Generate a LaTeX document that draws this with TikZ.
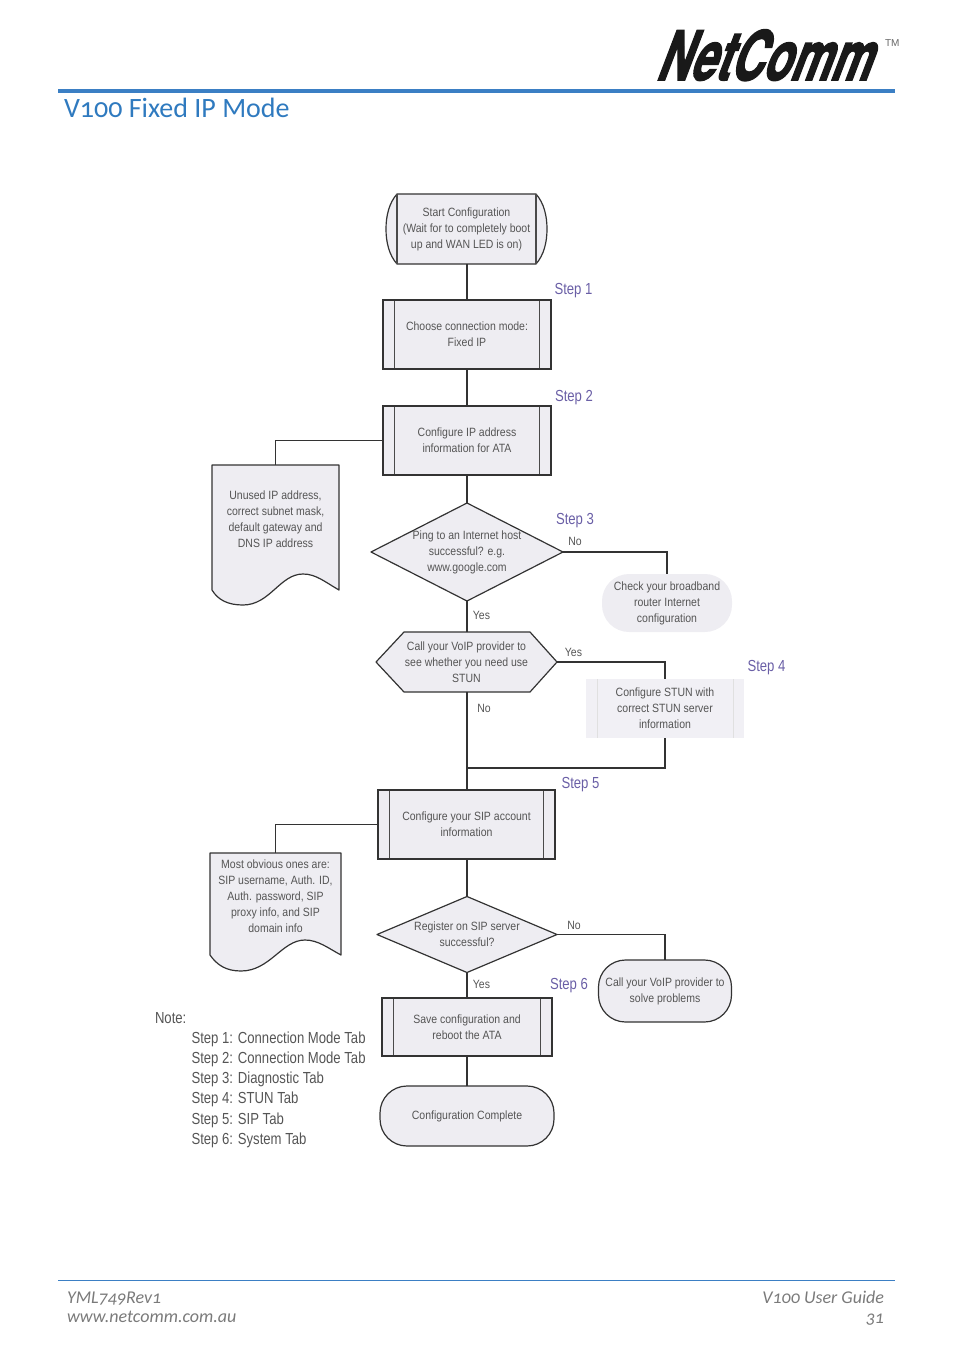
\documentclass[tikz,border=0pt]{standalone}
\usepackage{fontspec}
\setmainfont{Liberation Sans}
\newfontfamily\dgfont[FakeStretch=0.875]{Liberation Sans}
\newfontfamily\stepfont[FakeStretch=0.82]{Liberation Sans}
\newfontfamily\headfont[Numbers=OldStyle]{Carlito}
\newfontfamily\logofont[FakeBold=2.5]{TeX Gyre Heros Bold}
\usetikzlibrary{backgrounds}
\definecolor{rulecol}{HTML}{3B7FC4}
\definecolor{titlecol}{HTML}{2F7ABF}
\definecolor{boxfill}{HTML}{EEEDF2}
\definecolor{stunfill}{HTML}{F1F0F5}
\definecolor{edgecol}{HTML}{333333}
\definecolor{innercol}{HTML}{4A4A4A}
\definecolor{txtcol}{HTML}{555555}
\definecolor{stepcol}{HTML}{6A5FA6}
\definecolor{footcol}{HTML}{7A7A7A}
\tikzset{
  x=1pt,y=-1pt,
  every node/.style={inner sep=0pt,outer sep=0pt},
  dtxt/.style={font=\dgfont\fontsize{12}{16}\selectfont,text=txtcol,align=center},
  shapebox/.style={dtxt,rectangle,minimum width=#1},
  outline/.style={draw=edgecol,line width=1.2pt,fill=boxfill,line join=round},
  link/.style={draw=edgecol,line width=1.1pt},
  procbox/.style={dtxt,rectangle,draw=edgecol,line width=1.2pt,fill=boxfill,
    path picture={
      \draw[innercol,line width=1.8pt]
        ([xshift=11.5pt]path picture bounding box.north west) -- ([xshift=11.5pt]path picture bounding box.south west)
        ([xshift=-11.5pt]path picture bounding box.north east) -- ([xshift=-11.5pt]path picture bounding box.south east);}},
  termbox/.style={dtxt,rectangle,draw=edgecol,line width=1.2pt,fill=boxfill,rounded corners=27pt},
  steplab/.style={font=\stepfont\fontsize{16}{18}\selectfont,text=stepcol},
  yn/.style={font=\dgfont\fontsize{12}{14}\selectfont,text=txtcol},
  notetxt/.style={font=\stepfont\fontsize{16}{18}\selectfont,text=txtcol,anchor=west},
  foottxt/.style={font=\headfont\itshape\fontsize{18}{20}\selectfont,text=footcol}
}
\begin{document}
\begin{tikzpicture}
\useasboundingbox (0,0) rectangle (954,1352);

% header
\node[font=\logofont\fontsize{68}{68}\selectfont,text=black!90,xslant=0.38,xscale=0.665,transform shape,anchor=base west] (logo) at (655,80) {NetComm};
\node[font=\fontsize{10}{10}\selectfont,text=black!60,anchor=west] (tm) at (885,43) {TM};
\fill[rulecol] (58,89) rectangle (895,93);
\node[font=\headfont\fontsize{28}{30}\selectfont,text=titlecol,anchor=base west] (title) at (64,117) {V100 Fixed IP Mode};

% nodes
\node[shapebox=161pt,minimum height=70pt] (start) at (466.5,229) {Start Configuration\\(Wait for to completely boot\\up and WAN LED is on)};
\node[procbox,minimum width=168pt,minimum height=69pt] (b1) at (467,334.5) {Choose connection mode:\\Fixed IP};
\node[procbox,minimum width=168pt,minimum height=69pt] (b2) at (467,440.5) {Configure IP address\\information for ATA};
\node[shapebox=127pt,minimum height=108pt] (doc1) at (275.5,519) {Unused IP address,\\correct subnet mask,\\default gateway and\\DNS IP address};
\node[shapebox=192pt,minimum height=98pt] (d1) at (467,552) {Ping to an Internet host\\successful? e.g.\\www.google.com};
\node[dtxt,rectangle,fill=boxfill,rounded corners=27pt,minimum width=130pt,minimum height=58pt] (chk) at (667,603) {Check your broadband\\router Internet\\configuration};
\node[shapebox=181pt,minimum height=60pt] (hex) at (466.5,662) {Call your VoIP provider to\\see whether you need use\\STUN};
\node[dtxt,rectangle,fill=stunfill,minimum width=158pt,minimum height=59pt] (stun) at (665,708.5) {Configure STUN with\\correct STUN server\\information};
\node[procbox,minimum width=177pt,minimum height=69pt] (b5) at (466.5,824.5) {Configure your SIP account\\information};
\node[shapebox=131pt,minimum height=87pt] (doc2) at (275.5,896.5) {Most obvious ones are:\\SIP username, Auth. ID,\\Auth. password, SIP\\proxy info, and SIP\\domain info};
\node[shapebox=180pt,minimum height=76pt] (d2) at (467,934.5) {Register on SIP server\\successful?};
\node[termbox,minimum width=133pt,minimum height=62pt] (call) at (665,991) {Call your VoIP provider to\\solve problems};
\node[procbox,minimum width=170pt,minimum height=58pt] (save) at (467,1027) {Save configuration and\\reboot the ATA};
\node[termbox,minimum width=174pt,minimum height=60pt] (done) at (467,1116) {Configuration Complete};

% shapes behind the nodes
\begin{scope}[on background layer]
\draw[outline] (397,194) -- (536,194) .. controls (544,203) and (547,216) .. (547,229) .. controls (547,242) and (544,255) .. (536,264) -- (397,264) .. controls (389,255) and (386,242) .. (386,229) .. controls (386,216) and (389,203) .. (397,194) -- cycle;
\draw[innercol,line width=1.8pt] (397,194) -- (397,264) (536,194) -- (536,264);
\draw[outline] (doc1.north west) -- (doc1.north east) -- (339,590) .. controls (325,582) and (316,574) .. (303,574) .. controls (280,574) and (270,605) .. (243,605) .. controls (228,605) and (218,600) .. (212,590) -- cycle;
\draw[outline] (d1.west) -- (d1.north) -- (d1.east) -- (d1.south) -- cycle;
\draw[outline] (hex.west) -- (404,632) -- (530,632) -- (hex.east) -- (530,692) -- (404,692) -- cycle;
\draw[outline] (doc2.north west) -- (doc2.north east) -- (341,955) .. controls (328,948) and (318,940) .. (305,940) .. controls (282,940) and (270,971) .. (241,971) .. controls (226,971) and (217,965) .. (210,955) -- cycle;
\draw[outline] (d2.west) -- (d2.north) -- (d2.east) -- (d2.south) -- cycle;
\end{scope}
\draw[white!88!black,line width=0.6pt] ([xshift=11pt]stun.north west) -- ([xshift=11pt]stun.south west) ([xshift=-11pt]stun.north east) -- ([xshift=-11pt]stun.south east);

% connectors
\coordinate (jn) at (d1.south |- 0,768);
\draw[link] (start.south -| b1.north) -- (b1.north);
\draw[link] (b1.south) -- (b2.north);
\draw[link] (b2.south) -- (d1.north);
\draw[link] (d1.south) -- (d1.south |- hex.north);
\draw[link] (d1.south |- hex.south) -- (d1.south |- b5.north);
\draw[link] (b5.south -| d2.north) -- (d2.north);
\draw[link] (d2.south) -- (save.north);
\draw[link] (save.south) -- (done.north);
\draw[link] (b2.west) -| (doc1.north);
\draw[link] (b5.west) -| (doc2.north);
\draw[link] (d1.east) -| (chk.north);
\draw[link] (hex.east) -| (stun.north);
\draw[link] (stun.south) |- (jn);
\draw[link] (d2.east) -| (call.north);

% labels
\node[steplab] (s1) at (573.5,291) {Step 1};
\node[steplab] (s2) at (574,398) {Step 2};
\node[steplab] (s3) at (575,521) {Step 3};
\node[steplab] (s4) at (766.5,668) {Step 4};
\node[steplab] (s5) at (580.5,785) {Step 5};
\node[steplab] (s6) at (569,985.5) {Step 6};
\node[yn] (y1) at (481.5,615.5) {Yes};
\node[yn] (n1) at (575,541.5) {No};
\node[yn] (y2) at (573.5,652.5) {Yes};
\node[yn] (n2) at (484,708.5) {No};
\node[yn] (n3) at (574,925.5) {No};
\node[yn] (y3) at (481.5,984.5) {Yes};

% note
\node[notetxt] (nt) at (155,1018.5) {Note:};
\node[notetxt] (n1t) at (191.5,1039.5) {Step 1: Connection Mode Tab};
\node[notetxt] (n2t) at (191.5,1059.5) {Step 2: Connection Mode Tab};
\node[notetxt] (n3t) at (191.5,1079.5) {Step 3: Diagnostic Tab};
\node[notetxt] (n4t) at (191.5,1099.5) {Step 4: STUN Tab};
\node[notetxt] (n5t) at (191.5,1120) {Step 5: SIP Tab};
\node[notetxt] (n6t) at (191.5,1140) {Step 6: System Tab};

% footer
\draw[rulecol,line width=1pt] (58,1280) -- (895,1280);
\node[foottxt,anchor=base west] (fa) at (67,1303) {YML749Rev1};
\node[foottxt,anchor=base west] (fb) at (67,1322) {www.netcomm.com.au};
\node[foottxt,anchor=base east] (fc) at (884,1303) {V100 User Guide};
\node[foottxt,anchor=base east] (fd) at (884,1323) {31};
\end{tikzpicture}
\end{document}
